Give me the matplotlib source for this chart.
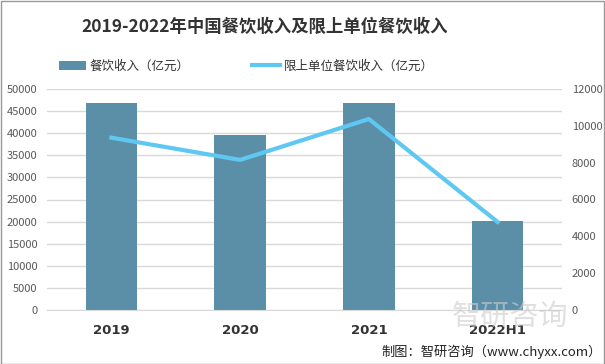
import matplotlib.pyplot as plt
import numpy as np

plt.rcParams['font.family'] = ['Noto Sans CJK SC', 'DejaVu Sans']

# data
years = ['2019', '2020', '2021', '2022H1']
catering = [46721, 39527, 46895, 20040]      # 餐饮收入（亿元）
above_limit = [9356, 8150, 10370, 4780]      # 限上单位餐饮收入（亿元）

bar_color = '#5b8fa8'
line_color = '#5ec8f2'
tick_color = '#595959'

fig = plt.figure(figsize=(6.05, 3.64), dpi=100)
ax = fig.add_axes([47 / 605, 1 - 310 / 364, 515 / 605, 221 / 364])
x = np.arange(len(years))

bars = ax.bar(x, catering, width=0.4, color=bar_color, zorder=2,
              label='餐饮收入（亿元）')
ax.set_ylim(0, 50000)
ax.set_yticks(np.arange(0, 50001, 5000))
ax.set_xlim(-0.5, len(years) - 0.5)
ax.set_xticks(x)
ax.set_xticklabels(years, fontweight='bold', fontsize=9.5, color='#333333',
                   family='DejaVu Sans')
ax.yaxis.grid(True, color='#d9d9d9', linewidth=1, zorder=0)
ax.tick_params(axis='y', length=0, labelsize=8, labelcolor=tick_color, pad=7)
ax.tick_params(axis='x', length=0, pad=10)
for s in ax.spines.values():
    s.set_visible(False)
ax.spines['bottom'].set_visible(True)
ax.spines['bottom'].set_color('#d9d9d9')

ax2 = ax.twinx()
line, = ax2.plot(x, above_limit, color=line_color, linewidth=3, zorder=3,
                 label='限上单位餐饮收入（亿元）')
ax2.set_ylim(0, 12000)
ax2.set_yticks(np.arange(0, 12001, 2000))
ax2.tick_params(axis='y', length=0, labelsize=8, labelcolor=tick_color, pad=7)
for s in ax2.spines.values():
    s.set_visible(False)

fig.text(265 / 605, 1 - 27 / 364, '2019-2022年中国餐饮收入及限上单位餐饮收入',
         ha='center', va='center', fontsize=12.5, fontweight='bold', color='#333333')

fig.legend(handles=[bars, line], loc='center', bbox_to_anchor=(246 / 605, 1 - 66 / 364),
           ncol=2, frameon=False, fontsize=9, columnspacing=5,
           handlelength=2.2, handletextpad=0.3, labelcolor='#333333')

# faint watermark
fig.text(510 / 605, 1 - 317 / 364, '智研咨询', ha='center', va='center',
         fontsize=21, color='#cccccc', alpha=0.6, zorder=0)
fig.text(0.995, 1 - 352 / 364, '制图：智研咨询（www.chyxx.com）', ha='right',
         va='center', fontsize=9.5, color='#222222')

# outer frame
fig.patches.append(plt.Rectangle((0.001, 0.001), 0.997, 0.997, transform=fig.transFigure,
                                 fill=False, edgecolor='#999999', linewidth=1))

fig.savefig('out.png', dpi=100)
